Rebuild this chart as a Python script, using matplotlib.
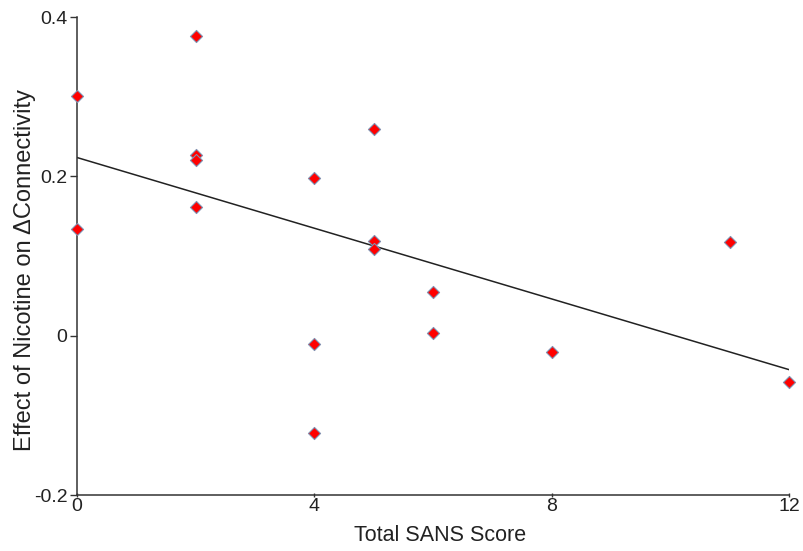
import numpy as np
import matplotlib.pyplot as plt

# Total SANS score vs effect of nicotine on connectivity change
sans_score = [0, 0, 2, 2, 2, 2, 4, 4, 4, 5, 5, 5, 6, 6, 8, 11, 12]
nicotine_effect = [0.301, 0.134, 0.376, 0.227, 0.220, 0.162, 0.198, -0.011, -0.122,
                   0.260, 0.119, 0.109, 0.055, 0.004, -0.020, 0.118, -0.058]

x_ticks = [0, 4, 8, 12]
y_ticks = [-0.2, 0, 0.2, 0.4]
y_tick_labels = ['-0.2', '0', '0.2', '0.4']

plt.rcParams['font.family'] = ['Liberation Sans', 'DejaVu Sans']

fig = plt.figure(figsize=(8.04, 5.51), dpi=100)
ax = fig.add_axes([0.0958, 0.1016, 0.8855, 0.8674])

# least squares fit line across the score range
slope, intercept = np.polyfit(sans_score, nicotine_effect, 1)
fit_x = np.array([0, 12])
ax.plot(fit_x, slope * fit_x + intercept, color='#222222', lw=1.1, zorder=2)

ax.scatter(sans_score, nicotine_effect, marker='D', s=38, color='#ff0000',
           edgecolors='#8090b0', linewidths=0.8, zorder=3, clip_on=False)

ax.set_xlim(0, 12)
ax.set_ylim(-0.2, 0.4)
ax.set_xticks(x_ticks)
ax.set_yticks(y_ticks)
ax.set_yticklabels(y_tick_labels)

for side in ['top', 'right']:
    ax.spines[side].set_visible(False)
for side in ['left', 'bottom']:
    ax.spines[side].set_color('#333333')
    ax.spines[side].set_linewidth(1.1)

ax.tick_params(axis='y', direction='out', length=5, width=1, labelsize=14,
               pad=2, colors='#333333', labelcolor='#222222')
ax.tick_params(axis='x', direction='inout', length=3, width=1, labelsize=14,
               pad=1, colors='#333333', labelcolor='#222222')

ax.set_xlabel('Total SANS Score', fontsize=15.5, color='#222222')
ax.xaxis.set_label_coords(0.51, -0.062, transform=ax.transAxes)
ax.set_ylabel('Effect of Nicotine on \u0394Connectivity', fontsize=17,
              color='#222222')
ax.yaxis.set_label_coords(-0.058, 0.47, transform=ax.transAxes)

fig.savefig('out.png', dpi=100)
